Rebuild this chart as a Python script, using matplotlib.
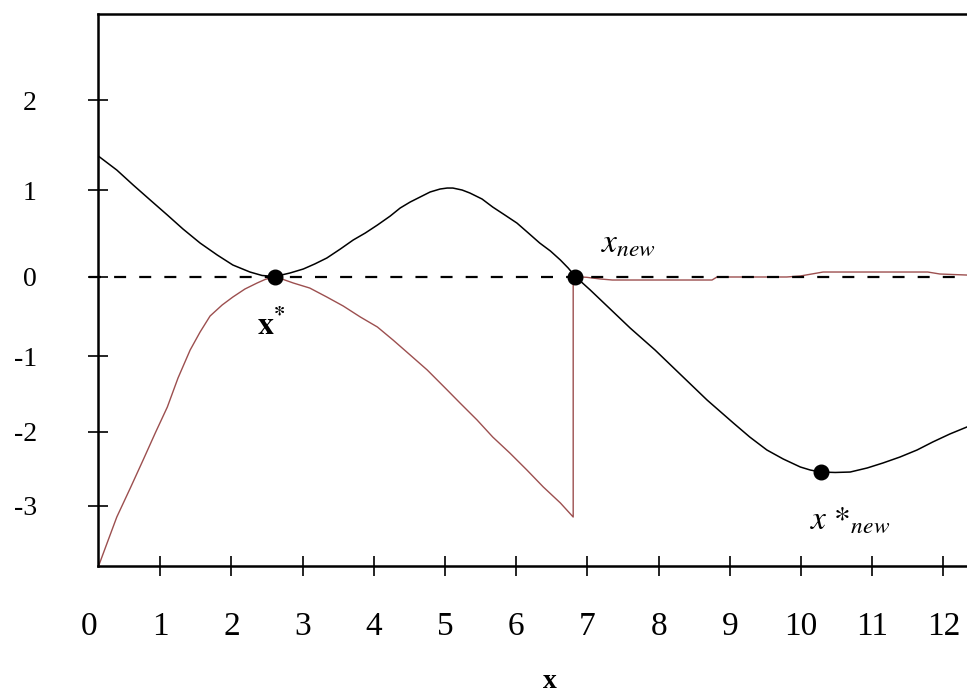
import numpy as np
import matplotlib
matplotlib.use("Agg")
import matplotlib.pyplot as plt

plt.rcParams["font.family"] = ["Liberation Serif", "DejaVu Serif"]
plt.rcParams["mathtext.fontset"] = "stix"
plt.rcParams["axes.unicode_minus"] = False

# f(x): smooth curve with a double root at x* and a simple root at x_new
f_x = [0.13, 0.39, 0.62, 0.86, 1.10, 1.32, 1.56, 1.80, 2.02, 2.26, 2.43, 2.61,
       2.82, 3.01, 3.17, 3.34, 3.53, 3.71, 3.88, 4.05, 4.23, 4.37, 4.51, 4.65,
       4.79, 4.93, 5.03, 5.11, 5.24, 5.35, 5.52, 5.67, 5.84, 6.01, 6.17, 6.33,
       6.48, 6.62, 6.73, 6.83, 7.04, 7.32, 7.60, 7.95, 8.30, 8.68, 9.05, 9.28,
       9.52, 9.75, 9.99, 10.13, 10.28, 10.48, 10.69, 10.93, 11.15, 11.39,
       11.63, 11.85, 12.09, 12.33]
f_y = [1.378, 1.222, 1.056, 0.884, 0.711, 0.549, 0.387, 0.249, 0.133, 0.052,
       0.012, 0.0, 0.040, 0.087, 0.145, 0.214, 0.318, 0.422, 0.503, 0.595,
       0.699, 0.792, 0.861, 0.919, 0.977, 1.011, 1.022, 1.022, 1.000, 0.965,
       0.896, 0.803, 0.711, 0.618, 0.503, 0.387, 0.295, 0.191, 0.098, 0.0,
       -0.170, -0.409, -0.648, -0.925, -1.237, -1.579, -1.882, -2.068, -2.243,
       -2.365, -2.473, -2.514, -2.541, -2.547, -2.541, -2.486, -2.419, -2.338,
       -2.243, -2.135, -2.027, -1.934]

# g(x): transformed function, restarts from zero at x_new
g_x = [0.13, 0.15, 0.27, 0.39, 0.58, 0.76, 0.93, 1.10, 1.25, 1.42, 1.56, 1.70,
       1.87, 2.02, 2.19, 2.36, 2.47, 2.61, 2.87, 3.10, 3.34, 3.57, 3.81, 4.05,
       4.27, 4.51, 4.75, 5.03, 5.21, 5.45, 5.67, 5.91, 6.15, 6.38, 6.62, 6.80,
       6.80, 6.99, 7.18, 7.35, 8.75, 8.82, 9.80, 9.99, 10.31, 11.78, 11.95,
       12.33]
g_y = [-3.811, -3.770, -3.459, -3.149, -2.757, -2.378, -2.014, -1.671, -1.289,
       -0.925, -0.698, -0.497, -0.358, -0.258, -0.157, -0.082, -0.038, 0.0,
       -0.082, -0.145, -0.258, -0.371, -0.509, -0.635, -0.799, -0.987, -1.184,
       -1.447, -1.618, -1.842, -2.068, -2.284, -2.514, -2.743, -2.959, -3.149,
       0.0, -0.010, -0.031, -0.044, -0.044, -0.006, -0.006, 0.006, 0.052,
       0.052, 0.029, 0.017]

# marked points: x*, x_new, x*_new
pt_x = [2.61, 6.83, 10.28]
pt_y = [0.0, 0.0, -2.541]

xticks = list(range(1, 13))
yticks = [-3, -2, -1, 0, 1, 2]

# uneven y spacing: piecewise linear between the ticks (heights in px)
scale_y = [-5, -3, -2, -1, 0, 1, 2, 4]
scale_h = [-654, -506, -432, -356, -276.5, -190, -100, 80]


def fwd(v):
    return np.interp(v, scale_y, scale_h)


def inv(v):
    return np.interp(v, scale_h, scale_y)


fig = plt.figure(figsize=(9.67, 6.97), dpi=100)
ax = fig.add_axes([98 / 967, 131 / 697, 869 / 967, 552 / 697])
ax.set_yscale("function", functions=(fwd, inv))

ax.plot(f_x, f_y, color="black", lw=1.1, zorder=2)
ax.plot(g_x, g_y, color="#9c4f4f", lw=1.0, zorder=2)
ax.plot([0, 12.331], [0, 0], color="black", lw=1.6, dashes=(5.4, 5.9),
        clip_on=False, zorder=3)
ax.plot(pt_x, pt_y, "o", color="black", ms=10.5, zorder=4)

ax.set_xlim(0.126, 12.331)
ax.set_ylim(-3.811, 2.956)

for s in ["left", "bottom", "top"]:
    ax.spines[s].set_linewidth(1.8)
ax.spines["right"].set_visible(False)

ax.set_xticks(xticks)
ax.set_yticks(yticks)
ax.set_yticklabels([str(t) for t in yticks])
ax.minorticks_off()
ax.tick_params(direction="inout", length=14, width=1.2, color="black")
ax.tick_params(axis="x", labelsize=24, pad=26)
ax.tick_params(axis="y", labelsize=20, pad=37)
ax.annotate("0", xy=(0, 0), xycoords=ax.get_xaxis_transform(),
            xytext=(0, -(7 + 26)), textcoords="offset points",
            ha="center", va="top", fontsize=24, annotation_clip=False)

ax.set_xlabel("x", fontsize=20, fontweight="bold")
ax.xaxis.label.set_va("center")
ax.xaxis.set_label_coords((550 - 98) / 869, (566 - 682) / 552)

ax.text(2.56, -0.61, r"$\mathbf{x^{*}}$", fontsize=23, ha="center", va="center")
ax.text(7.57, 0.39, r"$x_{new}$", fontsize=24, ha="center", va="center")
ax.text(10.69, -3.19, r"$x\ {*}_{new}$", fontsize=24, ha="center", va="center")

fig.savefig("out.png", dpi=100)
